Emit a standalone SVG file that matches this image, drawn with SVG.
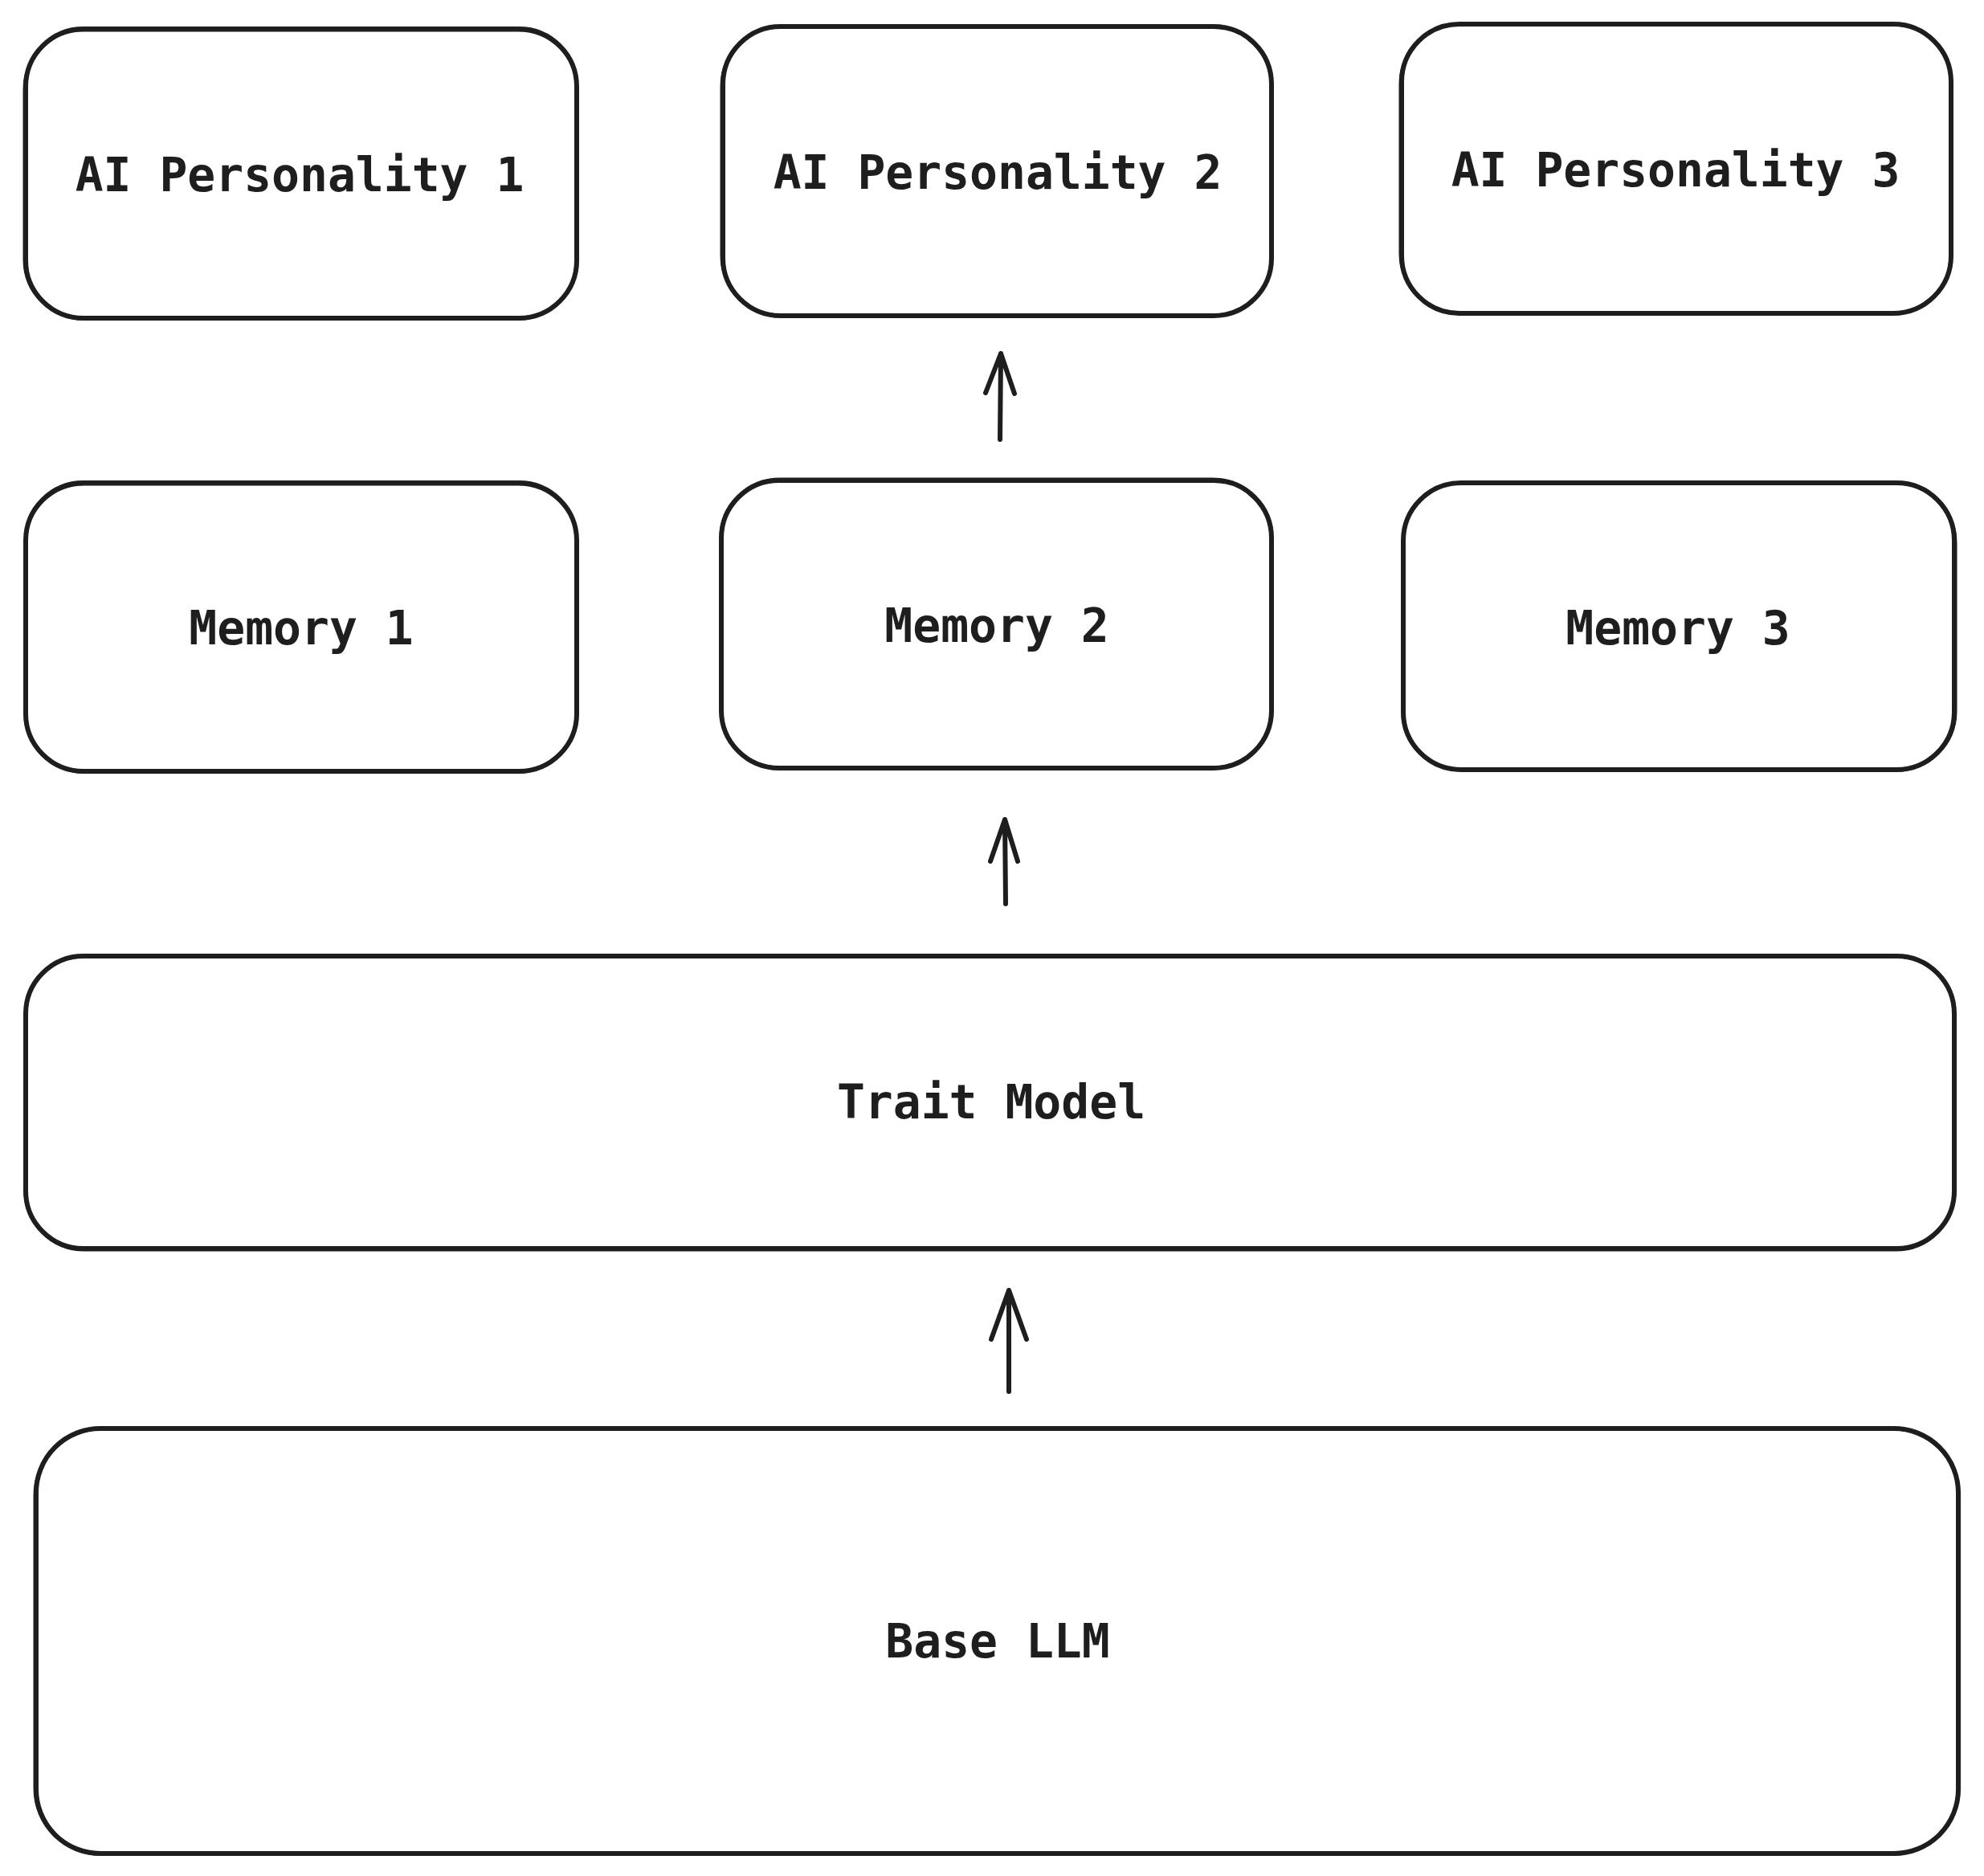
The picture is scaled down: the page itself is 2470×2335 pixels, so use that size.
<svg xmlns="http://www.w3.org/2000/svg" width="2470" height="2335" viewBox="0 0 2470 2335">
<style>
.box{fill:#ffffff;stroke:#1e1e1e;stroke-width:6;stroke-linejoin:round}
.sk{fill:none;stroke:#1e1e1e;stroke-width:3;stroke-linejoin:round}
.lbl{font-family:"DejaVu Sans Mono","Liberation Mono",monospace;font-size:58px;font-weight:bold;fill:#1e1e1e;text-anchor:middle}
.arr{fill:none;stroke:#1e1e1e;stroke-width:6;stroke-linecap:round;stroke-linejoin:round}
</style>
<rect width="2470" height="2335" fill="#ffffff"/>
<g id="ai1"><rect class="box" x="32" y="36" width="686" height="360" rx="72"/><rect class="sk" x="30" y="38" width="689" height="359" rx="74"/><text class="lbl" x="373" y="238">AI Personality 1</text></g>
<g id="ai2"><rect class="box" x="900" y="33" width="683" height="360" rx="72"/><rect class="sk" x="898" y="34" width="686" height="358" rx="74"/><text class="lbl" x="1242" y="235">AI Personality 2</text></g>
<g id="ai3"><rect class="box" x="1745" y="30" width="684" height="360" rx="72"/><rect class="sk" x="1743" y="31" width="687" height="358" rx="74"/><text class="lbl" x="2086" y="232">AI Personality 3</text></g>
<g id="mem1"><rect class="box" x="32" y="601" width="686" height="359" rx="72"/><rect class="sk" x="31" y="603" width="688" height="358" rx="74"/><text class="lbl" x="375" y="802">Memory 1</text></g>
<g id="mem2"><rect class="box" x="898" y="598" width="685" height="358" rx="72"/><rect class="sk" x="897" y="596" width="687" height="359" rx="74"/><text class="lbl" x="1241" y="799">Memory 2</text></g>
<g id="mem3"><rect class="box" x="1747" y="601" width="686" height="357" rx="72"/><rect class="sk" x="1746" y="602" width="689" height="357" rx="74"/><text class="lbl" x="2089" y="802">Memory 3</text></g>
<g id="trait"><rect class="box" x="32" y="1190" width="2401" height="364" rx="72"/><rect class="sk" x="31" y="1191" width="2403" height="365" rx="74"/><text class="lbl" x="1234" y="1392">Trait Model</text></g>
<g id="base"><rect class="box" x="45" y="1778" width="2393" height="529" rx="80"/><rect class="sk" x="43" y="1779" width="2396" height="529" rx="82"/><text class="lbl" x="1242" y="2063">Base LLM</text></g>
<g id="connectors">
<path class="arr" d="M1245 547 L1246 440 M1227 489 L1246 440 L1263 490"/>
<path class="arr" d="M1252 1125 L1251 1020 M1233 1072 L1251 1020 L1267 1072"/>
<path class="arr" d="M1256 1732 L1256 1606 M1234 1667 L1256 1606 L1278 1667"/>
</g>
</svg>
